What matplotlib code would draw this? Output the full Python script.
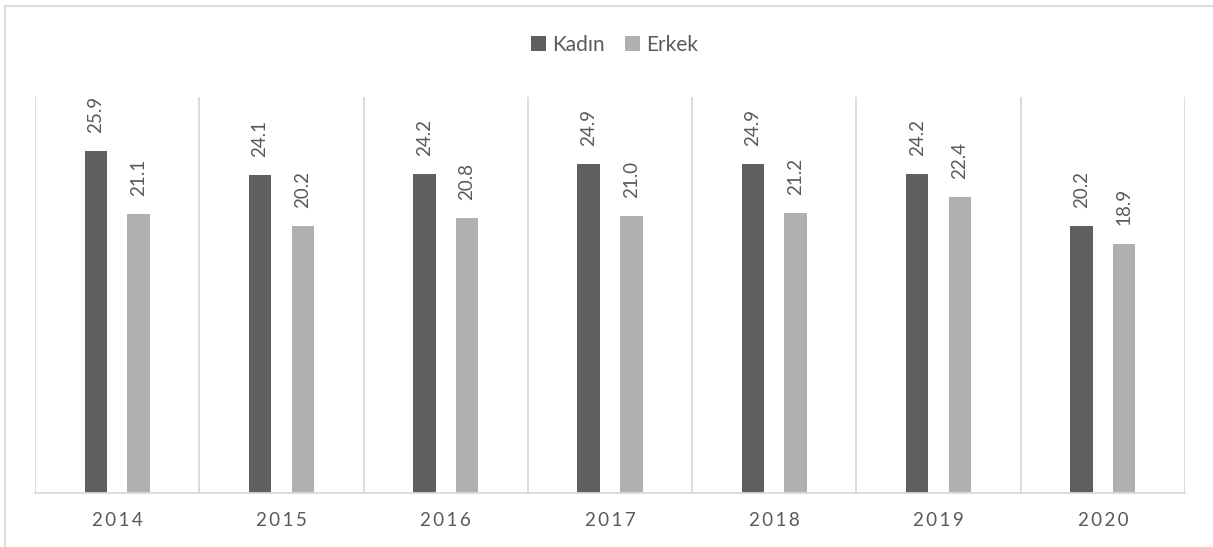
import matplotlib
matplotlib.use("Agg")
import matplotlib.pyplot as plt
import numpy as np
from matplotlib.patches import Rectangle

years = ["2014", "2015", "2016", "2017", "2018", "2019", "2020"]
kadin = [25.9, 24.1, 24.2, 24.9, 24.9, 24.2, 20.2]
erkek = [21.1, 20.2, 20.8, 21.0, 21.2, 22.4, 18.9]
series_names = ["Kadın", "Erkek"]

plt.rcParams['font.family'] = ['Lato', 'DejaVu Sans']
TXT = '#595959'
GRID = '#d9d9d9'
C_K = '#5f5f5f'
C_E = '#b0b0b0'

W, H = 1213, 547
fig = plt.figure(figsize=(W / 100, H / 100), dpi=100)
fig.patch.set_facecolor('white')

# outer chart border (extends beyond right/bottom edges)
fig.patches.append(Rectangle((5 / W, -0.1), 1.2, (1 - 6 / H) + 0.1,
                             transform=fig.transFigure, fill=False,
                             edgecolor=GRID, linewidth=1.3))

ax = fig.add_axes([35 / W, 1 - 493 / H, (1185 - 35) / W, (493 - 97) / H])
x = np.arange(len(years))
off = 0.13
bw = 0.136
b1 = ax.bar(x - off, kadin, bw, color=C_K, label=series_names[0])
b2 = ax.bar(x + off, erkek, bw, color=C_E, label=series_names[1])

for bars, vals in ((b1, kadin), (b2, erkek)):
    for rect, v in zip(bars, vals):
        ax.annotate(f"{v:.1f}", (rect.get_x() + rect.get_width() / 2, rect.get_height()),
                    xytext=(0, 13), textcoords='offset points', rotation=90,
                    ha='center', va='bottom', fontsize=13.5, color=TXT)

ax.set_xlim(-0.5, len(years) - 0.5)
ax.set_ylim(0, 30)
for b in np.arange(-0.5, len(years), 1.0):
    ax.axvline(b, color=GRID, linewidth=1.3, zorder=0)

for s in ['top', 'right', 'left']:
    ax.spines[s].set_visible(False)
ax.spines['bottom'].set_color(GRID)
ax.spines['bottom'].set_linewidth(1.3)
ax.set_yticks([])
ax.set_xticks(x)
ax.set_xticklabels(["\u2009".join(y) for y in years], fontsize=13.5, color=TXT)
ax.tick_params(axis='x', length=0, pad=14)

leg = fig.legend(handles=[b1, b2], labels=series_names, loc='center',
                 bbox_to_anchor=(0.5066, 1 - 45 / H), ncol=2, frameon=False,
                 fontsize=15, handlelength=0.7, handleheight=0.7,
                 handletextpad=0.3, columnspacing=1.0, labelcolor=TXT)

fig.savefig("out.png", dpi=100, facecolor='white')
